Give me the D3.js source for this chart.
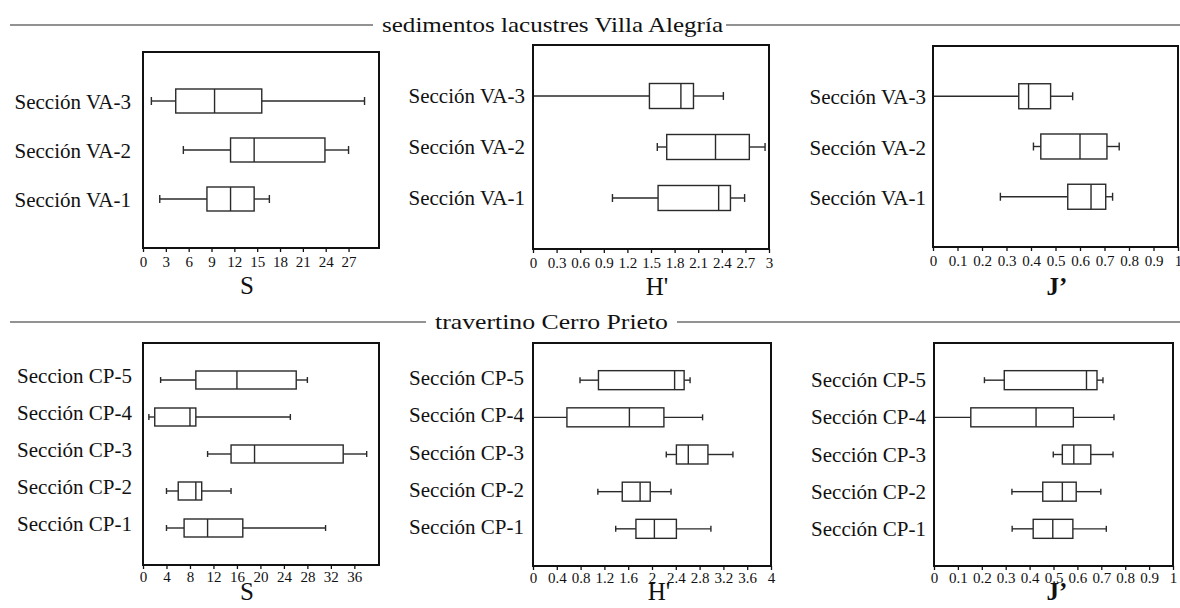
<!DOCTYPE html>
<html>
<head>
<meta charset="utf-8">
<script src="https://cdn.jsdelivr.net/npm/d3@7"></script>
<style>
  html, body { margin: 0; padding: 0; background: #fff; }
  svg { display: block; }
  text { font-family: "Liberation Serif", "Times New Roman", serif; fill: #111; }
</style>
</head>
<body>
<svg id="chart" width="1180" height="608"></svg>
<script>
// ---------------- DATA ----------------
const groupTitles = ["sedimentos lacustres Villa Alegría", "travertino Cerro Prieto"];

const vaCategories = ["Sección VA-3", "Sección VA-2", "Sección VA-1"];
const cpCategoriesS = ["Seccion CP-5", "Sección CP-4", "Sección CP-3", "Sección CP-2", "Sección CP-1"];
const cpCategories = ["Sección CP-5", "Sección CP-4", "Sección CP-3", "Sección CP-2", "Sección CP-1"];

// each row: [whisker low, Q1, median, Q3, whisker high]
const vaS = [[1.1, 4.3, 9.4, 15.6, 29.1], [5.3, 11.5, 14.6, 23.9, 27.0], [2.2, 8.4, 11.5, 14.6, 16.6]];
const vaH = [[0.0, 1.48, 1.88, 2.04, 2.42], [1.58, 1.70, 2.32, 2.75, 2.95], [1.01, 1.59, 2.36, 2.51, 2.69]];
const vaJ = [[0.0, 0.35, 0.39, 0.48, 0.57], [0.41, 0.44, 0.60, 0.71, 0.76], [0.275, 0.55, 0.645, 0.705, 0.733]];

const cpS = [[3, 9, 16, 26.1, 28], [1, 2, 8, 9, 25.1], [11, 15, 19, 34.1, 38.1], [4, 6, 9, 10, 15], [4, 7, 11, 17, 31.1]];
const cpH = [[0.79, 1.10, 2.38, 2.54, 2.64], [0.0, 0.57, 1.62, 2.20, 2.85], [2.24, 2.41, 2.61, 2.94, 3.36], [1.09, 1.50, 1.80, 1.97, 2.32], [1.39, 1.73, 2.04, 2.41, 2.99]];
const cpJ = [[0.211, 0.294, 0.638, 0.682, 0.707], [0.0, 0.154, 0.427, 0.583, 0.753], [0.499, 0.537, 0.585, 0.656, 0.749], [0.326, 0.455, 0.537, 0.595, 0.698], [0.327, 0.415, 0.497, 0.581, 0.721]];

const ticksVaS = [0, 3, 6, 9, 12, 15, 18, 21, 24, 27];
const ticksVaH = [0, 0.3, 0.6, 0.9, 1.2, 1.5, 1.8, 2.1, 2.4, 2.7, 3];
const ticksJ = [0, 0.1, 0.2, 0.3, 0.4, 0.5, 0.6, 0.7, 0.8, 0.9, 1];
const ticksCpS = [0, 4, 8, 12, 16, 20, 24, 28, 32, 36];
const ticksCpH = [0, 0.4, 0.8, 1.2, 1.6, 2, 2.4, 2.8, 3.2, 3.6, 4];

const axisTitles = ["S", "H'", "J’"];

// ---------------- LAYOUT ----------------
const panels = [
  {cats: vaCategories, data: vaS, ticks: ticksVaS, xmax: 31,   title: axisTitles[0], L: 143, R: 379,  T: 52,  B: 248, boxH: 24, capH: 8, labGap: 12, labDy: 1,  tickPad: 4, tx: 247,  ty: 294},
  {cats: vaCategories, data: vaH, ticks: ticksVaH, xmax: 3,    title: axisTitles[1], L: 533, R: 769,  T: 45,  B: 249, boxH: 25, capH: 8, labGap: 8,  labDy: 0,  tickPad: 4, tx: 657,  ty: 295},
  {cats: vaCategories, data: vaJ, ticks: ticksJ,   xmax: 1,    title: axisTitles[2], L: 933, R: 1178, T: 46,  B: 247, boxH: 25, capH: 8, labGap: 7,  labDy: 1,  tickPad: 4, tx: 1057, ty: 295},
  {cats: cpCategoriesS, data: cpS, ticks: ticksCpS, xmax: 40.2, title: axisTitles[0], L: 143, R: 379,  T: 343, B: 565, boxH: 18, capH: 6, labGap: 11, labDy: -4, tickPad: 2, tx: 247,  ty: 600},
  {cats: cpCategories, data: cpH, ticks: ticksCpH, xmax: 4,    title: axisTitles[1], L: 533, R: 771,  T: 343, B: 566, boxH: 19, capH: 6, labGap: 9,  labDy: -2, tickPad: 2, tx: 659,  ty: 600},
  {cats: cpCategories, data: cpJ, ticks: ticksJ,   xmax: 1,    title: axisTitles[2], L: 934, R: 1173, T: 343, B: 566, boxH: 19, capH: 6, labGap: 8,  labDy: 0,  tickPad: 2, tx: 1057, ty: 600}
];

const headers = [
  {text: groupTitles[0], cx: 552.5, lineY: 25, baseY: 32, width: 341, lineL: 10, gapL: 9, gapR: 3},
  {text: groupTitles[1], cx: 551.5, lineY: 322, baseY: 329, width: 233, lineL: 10, gapL: 9, gapR: 9}
];

const svg = d3.select("#chart");

// ---------------- HEADERS ----------------
headers.forEach(h => {
  svg.append("text")
    .attr("x", h.cx).attr("y", h.baseY)
    .attr("text-anchor", "middle")
    .attr("font-size", 22)
    .attr("textLength", h.width)
    .attr("lengthAdjust", "spacingAndGlyphs")
    .text(h.text);
  const x0 = h.cx - h.width / 2, x1 = h.cx + h.width / 2;
  svg.append("line").attr("x1", h.lineL).attr("x2", x0 - h.gapL)
    .attr("y1", h.lineY).attr("y2", h.lineY)
    .attr("stroke", "#6e6e6e").attr("stroke-width", 1.3);
  svg.append("line").attr("x1", x1 + h.gapR).attr("x2", 1180)
    .attr("y1", h.lineY).attr("y2", h.lineY)
    .attr("stroke", "#6e6e6e").attr("stroke-width", 1.3);
});

// ---------------- PANELS ----------------
panels.forEach(p => {
  const g = svg.append("g");
  const x = d3.scaleLinear().domain([0, p.xmax]).range([p.L, p.R]);
  const y = d3.scaleLinear().domain([0, p.cats.length + 1]).range([p.T, p.B]);

  // axis
  const ax = g.append("g").attr("transform", `translate(0,${p.B})`)
    .call(d3.axisBottom(x).tickValues(p.ticks).tickSize(4).tickPadding(p.tickPad).tickFormat(d => String(d)));
  ax.attr("font-family", null).attr("font-size", null);
  ax.select(".domain").remove();
  ax.selectAll(".tick line").attr("stroke", "#111").attr("stroke-width", 1.3);
  ax.selectAll(".tick text")
    .style("font-family", '"Liberation Serif", "Times New Roman", serif')
    .style("font-size", "15px").attr("fill", "#111");

  // boxes
  p.cats.forEach((c, i) => {
    const d = p.data[i];
    const cy = y(i + 1);
    const st = "#2a2a2a", sw = 1.4;
    g.append("line").attr("x1", x(d[0])).attr("x2", x(d[1])).attr("y1", cy).attr("y2", cy)
      .attr("stroke", st).attr("stroke-width", sw);
    g.append("line").attr("x1", x(d[3])).attr("x2", x(d[4])).attr("y1", cy).attr("y2", cy)
      .attr("stroke", st).attr("stroke-width", sw);
    [d[0], d[4]].forEach(v => {
      g.append("line").attr("x1", x(v)).attr("x2", x(v))
        .attr("y1", cy - p.capH / 2).attr("y2", cy + p.capH / 2)
        .attr("stroke", st).attr("stroke-width", sw);
    });
    g.append("rect").attr("x", x(d[1])).attr("y", cy - p.boxH / 2)
      .attr("width", x(d[3]) - x(d[1])).attr("height", p.boxH)
      .attr("fill", "#fff").attr("stroke", st).attr("stroke-width", sw);
    g.append("line").attr("x1", x(d[2])).attr("x2", x(d[2]))
      .attr("y1", cy - p.boxH / 2).attr("y2", cy + p.boxH / 2)
      .attr("stroke", st).attr("stroke-width", sw);
    g.append("text").attr("x", p.L - p.labGap).attr("y", cy + p.labDy)
      .attr("text-anchor", "end").attr("dominant-baseline", "central")
      .attr("font-size", 21).text(c);
  });

  // frame
  g.append("rect").attr("x", p.L).attr("y", p.T)
    .attr("width", p.R - p.L).attr("height", p.B - p.T)
    .attr("fill", "none").attr("stroke", "#111").attr("stroke-width", 2);

  // axis title
  g.append("text").attr("x", p.tx).attr("y", p.ty)
    .attr("text-anchor", "middle").attr("font-size", 25)
    .attr("font-weight", p.title === axisTitles[2] ? "bold" : "normal")
    .text(p.title);
});
</script>
</body>
</html>
